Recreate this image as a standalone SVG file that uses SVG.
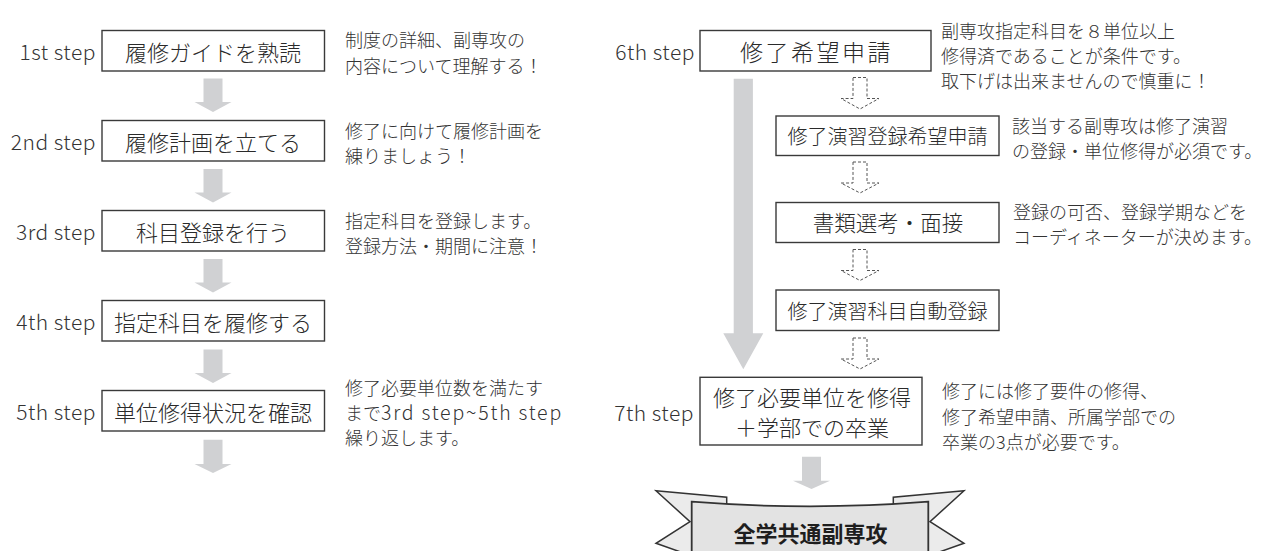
<svg xmlns="http://www.w3.org/2000/svg" width="1272" height="551" viewBox="0 0 1272 551">
<style>
.box{fill:#fff;stroke:#3a3a3a;stroke-width:1.4}
.bt{font-family:'Noto Sans CJK JP',sans-serif;font-weight:300;font-size:22px;fill:#2a2a2a;text-anchor:middle}
.step{font-family:'Noto Sans CJK JP',sans-serif;font-weight:300;font-size:21px;fill:#333;text-anchor:end;letter-spacing:0.5px}
.note{font-family:'Noto Sans CJK JP',sans-serif;font-weight:300;font-size:18px;fill:#333}
.ga{fill:#d0d1d3}
.da{fill:#fff;stroke:#555;stroke-width:1;stroke-dasharray:3 2}
.tail{fill:#ebebeb;stroke:#333;stroke-width:1.5;stroke-linejoin:miter}
.face{fill:#e3e3e3;stroke:#333;stroke-width:1.8}
</style>

<g id="connectors">
  <path class="ga" d="M203.5,78.5H222.5V102H231.5L213,112L194.5,102H203.5Z"/>
  <path class="ga" d="M203.5,169H222.5V192.5H231.5L213,202.5L194.5,192.5H203.5Z"/>
  <path class="ga" d="M203.5,259H222.5V282.5H231.5L213,292.5L194.5,282.5H203.5Z"/>
  <path class="ga" d="M203.5,349.5H222.5V373H231.5L213,383L194.5,373H203.5Z"/>
  <path class="ga" d="M203.5,439.7H222.5V464H231.5L213,473L194.5,464H203.5Z"/>
  <path class="ga" d="M733.7,78.7H752.9V333.3H763.3L743.3,369.3L723.3,333.3H733.7Z"/>
  <path class="ga" d="M802,456.7H821V480.7H830L811.5,489L793,480.7H802Z"/>
  <path class="da" d="M853,77.5H867V98.5H879L860,109L841,98.5H853Z"/>
  <path class="da" d="M853,162H867V183H879L860,193L841,183H853Z"/>
  <path class="da" d="M853,249.5H867V270.5H879L860,280.5L841,270.5H853Z"/>
  <path class="da" d="M853,338H867V359H879L860,369L841,359H853Z"/>
</g>

<g id="step1">
  <text class="step" x="96" y="60">1st step</text>
  <rect class="box" x="102" y="30.5" width="222.5" height="40.5"/>
  <text class="bt" x="213" y="60.5">履修ガイドを熟読</text>
  <text class="note" x="345" y="47.3">制度の詳細、副専攻の</text>
  <text class="note" x="345" y="72.9">内容について理解する！</text>
</g>

<g id="step2">
  <text class="step" x="96" y="150">2nd step</text>
  <rect class="box" x="102" y="120.5" width="222.5" height="40.5"/>
  <text class="bt" x="213" y="150.5">履修計画を立てる</text>
  <text class="note" x="345" y="137.5">修了に向けて履修計画を</text>
  <text class="note" x="345" y="163">練りましょう！</text>
</g>

<g id="step3">
  <text class="step" x="96" y="240">3rd step</text>
  <rect class="box" x="102" y="210.5" width="222.5" height="40.5"/>
  <text class="bt" x="213" y="240.5">科目登録を行う</text>
  <text class="note" x="345" y="227.5">指定科目を登録します。</text>
  <text class="note" x="345" y="253">登録方法・期間に注意！</text>
</g>

<g id="step4">
  <text class="step" x="96" y="330">4th step</text>
  <rect class="box" x="102" y="300.5" width="222.5" height="40.5"/>
  <text class="bt" x="213" y="330.5">指定科目を履修する</text>
</g>

<g id="step5">
  <text class="step" x="96" y="420">5th step</text>
  <rect class="box" x="102" y="390.5" width="222.5" height="40.5"/>
  <text class="bt" x="213" y="420.5">単位修得状況を確認</text>
  <text class="note" x="345" y="394.6">修了必要単位数を満たす</text>
  <text class="note" x="345" y="420">まで<tspan font-size="19.5" letter-spacing="1.8">3rd step~5th step</tspan></text>
  <text class="note" x="345" y="445.4">繰り返します。</text>
</g>

<g id="step6">
  <text class="step" x="695" y="60">6th step</text>
  <rect class="box" x="700" y="30.5" width="231" height="40.5"/>
  <text class="bt" x="740" y="60.5" style="text-anchor:start;font-size:23px;letter-spacing:2.5px">修了希望申請</text>
  <text class="note" x="941" y="38.3">副専攻指定科目を８単位以上</text>
  <text class="note" x="941" y="63.3">修得済であることが条件です。</text>
  <text class="note" x="941" y="88.3">取下げは出来ませんので慎重に！</text>
</g>

<g id="apply-seminar">
  <rect class="box" x="776" y="116" width="223" height="39.5"/>
  <text class="bt" x="887.5" y="144" style="font-size:20px">修了演習登録希望申請</text>
  <text class="note" x="1012" y="133.3">該当する副専攻は修了演習</text>
  <text class="note" x="1012" y="158.3">の登録・単位修得が必須です。</text>
</g>

<g id="screening">
  <rect class="box" x="776" y="202.5" width="223" height="40"/>
  <text class="bt" x="888" y="231" style="font-size:21.5px">書類選考・面接</text>
  <text class="note" x="1013" y="219">登録の可否、登録学期などを</text>
  <text class="note" x="1013" y="244">コーディネーターが決めます。</text>
</g>

<g id="auto-register">
  <rect class="box" x="776" y="290" width="223" height="40.5"/>
  <text class="bt" x="887.5" y="318.5" style="font-size:20px">修了演習科目自動登録</text>
</g>

<g id="step7">
  <text class="step" x="694" y="421">7th step</text>
  <rect class="box" x="700" y="377.3" width="222" height="67.7"/>
  <text class="bt" x="812" y="406">修了必要単位を修得</text>
  <text class="bt" x="812" y="435.5">＋学部での卒業</text>
  <text class="note" x="942" y="397.5">修了には修了要件の修得、</text>
  <text class="note" x="942" y="424">修了希望申請、所属学部での</text>
  <text class="note" x="942" y="449">卒業の3点が必要です。</text>
</g>

<g id="banner">
  <path class="tail" d="M656,490.7L726.7,497.3V556H692L656,543.3L690,521.7Z"/>
  <path class="tail" d="M964,490.7L893.3,497.3V556H928L964,543.3L930,521.7Z"/>
  <path class="face" d="M691.7,501.7Q810,511 928.3,501.7V560H691.7Z"/>
  <text x="810.5" y="541.5" style="font-family:'Noto Sans CJK JP',sans-serif;font-size:22px;font-weight:bold;fill:#1e1e1e;text-anchor:middle">全学共通副専攻</text>
</g>
</svg>
